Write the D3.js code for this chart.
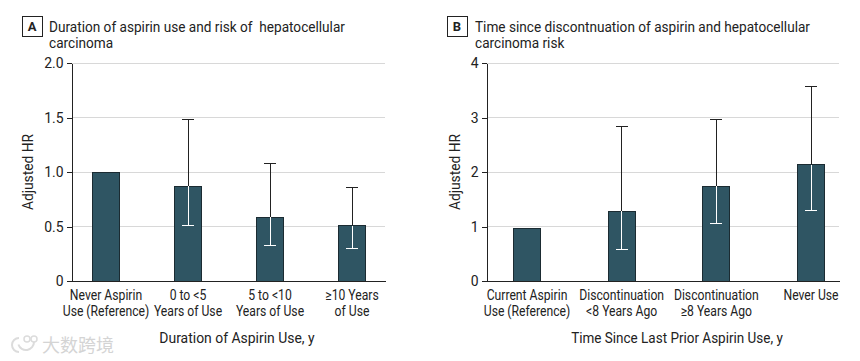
<!DOCTYPE html>
<html>
<head>
<meta charset="utf-8">
<script src="https://cdn.jsdelivr.net/npm/d3@7"></script>
<style>
    body { margin: 0; background: #fff; }
    svg { display: block; }
    text { font-family: "Roboto", sans-serif; fill: #222; }
    line, rect, .domain { shape-rendering: crispEdges; }
</style>
</head>
<body>
<svg id="chart" width="860" height="361"></svg>
<script>
// Panel A data
const durationLabels = ["Never Aspirin|Use (Reference)", "0 to <5|Years of Use", "5 to <10|Years of Use", "≥10 Years|of Use"];
const durationHR = [1.0, 0.87, 0.585, 0.505];
const durationLower = [null, 0.51, 0.33, 0.30];
const durationUpper = [null, 1.48, 1.08, 0.86];
const durationTicks = [0, 0.5, 1, 1.5, 2];

// Panel B data
const sinceLabels = ["Current Aspirin|Use (Reference)", "Discontinuation|<8 Years Ago", "Discontinuation|≥8 Years Ago", "Never Use"];
const sinceHR = [0.97, 1.28, 1.74, 2.13];
const sinceLower = [null, 0.57, 1.05, 1.29];
const sinceUpper = [null, 2.83, 2.97, 3.57];
const sinceTicks = [0, 1, 2, 3, 4];

const svg = d3.select("#chart");

const plotTop = 63, plotBottom = 281;
const barColor = "#2f5563";
const edgeColor = "#1b2b32";
const capHalf = 6;

// No condensed font is installed, so text gets squeezed horizontally
function squeezed(parent, x, y, squeeze, size, str) {
    return parent.append("text")
        .attr("transform", `translate(${x}, ${y}) scale(${squeeze}, 1)`)
        .attr("font-size", size)
        .style("white-space", "pre")
        .text(str);
}

function drawPanel(p) {
    const y = d3.scaleLinear().domain(p.domain).range([plotBottom, plotTop]);
    const x = d3.scalePoint().domain(p.labels).range(p.centers);
    const rows = p.labels.map((label, i) => ({
        label, hr: p.hr[i], lower: p.lower[i], upper: p.upper[i]
    }));

    // Letter box and title
    svg.append("rect")
        .attr("x", p.boxX).attr("y", 16)
        .attr("width", 20).attr("height", 20)
        .attr("fill", "#fff").attr("stroke", "#222");
    svg.append("text")
        .attr("x", p.boxX + 10).attr("y", 31)
        .attr("text-anchor", "middle")
        .attr("font-size", 13).attr("font-weight", "bold")
        .text(p.letter);
    p.title.forEach((line, i) => {
        squeezed(svg, p.titleX, 31.8 + i * 16.6, 0.974, 14, line);
    });

    // Grid lines
    svg.append("g").selectAll("line")
        .data(p.ticks.filter(d => d > 0))
        .enter()
        .append("line")
        .attr("x1", p.axisX).attr("x2", p.right)
        .attr("y1", d => y(d)).attr("y2", d => y(d))
        .attr("stroke", "#d8d8d8").attr("stroke-width", 1);

    // Upper whisker sits behind the bar top, so black part first
    const g = svg.append("g");
    g.selectAll("line.upper")
        .data(rows.filter(d => d.upper !== null))
        .enter()
        .append("line")
        .attr("class", "upper")
        .attr("x1", d => x(d.label)).attr("x2", d => x(d.label))
        .attr("y1", d => y(d.hr)).attr("y2", d => y(d.upper))
        .attr("stroke", "#222");
    g.selectAll("line.upper-cap")
        .data(rows.filter(d => d.upper !== null))
        .enter()
        .append("line")
        .attr("class", "upper-cap")
        .attr("x1", d => x(d.label) - capHalf).attr("x2", d => x(d.label) + capHalf)
        .attr("y1", d => y(d.upper)).attr("y2", d => y(d.upper))
        .attr("stroke", "#222");

    // Bars
    g.selectAll("rect")
        .data(rows)
        .enter()
        .append("rect")
        .attr("x", d => x(d.label) - 13.5)
        .attr("y", d => y(d.hr))
        .attr("width", 27)
        .attr("height", d => y(0) - y(d.hr))
        .attr("fill", barColor)
        .attr("stroke", edgeColor);

    // White part of the whisker inside the bar
    g.selectAll("line.lower")
        .data(rows.filter(d => d.lower !== null))
        .enter()
        .append("line")
        .attr("class", "lower")
        .attr("x1", d => x(d.label)).attr("x2", d => x(d.label))
        .attr("y1", d => y(d.hr)).attr("y2", d => y(d.lower))
        .attr("stroke", "#fff");
    g.selectAll("line.lower-cap")
        .data(rows.filter(d => d.lower !== null))
        .enter()
        .append("line")
        .attr("class", "lower-cap")
        .attr("x1", d => x(d.label) - capHalf).attr("x2", d => x(d.label) + capHalf)
        .attr("y1", d => y(d.lower)).attr("y2", d => y(d.lower))
        .attr("stroke", "#fff");

    // Y axis
    const yAxis = d3.axisLeft(y)
        .tickValues(p.ticks)
        .tickSize(5)
        .tickSizeOuter(0)
        .tickFormat(p.format);
    const yG = svg.append("g")
        .attr("transform", `translate(${p.axisX}, 0)`)
        .call(yAxis);
    yG.selectAll("path, line").attr("stroke", "#222");
    yG.selectAll("text")
        .attr("font-size", 15.5)
        .attr("x", -8 / 0.9)
        .attr("transform", "scale(0.9, 1)")
        .style("font-family", "Roboto");

    // Baseline
    svg.append("line")
        .attr("x1", p.axisX).attr("x2", p.right + 1)
        .attr("y1", y(0)).attr("y2", y(0))
        .attr("stroke", "#222");

    // Category labels
    rows.forEach(d => {
        d.label.split("|").forEach((line, i) => {
            squeezed(svg, x(d.label), 300 + i * 16, 0.84, 14.5, line)
                .attr("text-anchor", "middle");
        });
    });

    // Axis titles
    svg.append("text")
        .attr("transform", `translate(${p.yTitleX}, 172) rotate(-90) scale(0.95, 1)`)
        .attr("text-anchor", "middle")
        .attr("font-size", 14.5)
        .text("Adjusted HR");
    squeezed(svg, p.xTitleX, 343, p.xTitleSqueeze, 15, p.xTitle)
        .attr("text-anchor", "middle");
}

drawPanel({
    letter: "A", boxX: 22, titleX: 49,
    title: ["Duration of aspirin use and risk of  hepatocellular", "carcinoma"],
    labels: durationLabels, hr: durationHR, lower: durationLower, upper: durationUpper,
    ticks: durationTicks, domain: [0, 2],
    format: d => d === 0 ? "0" : d3.format(".1f")(d),
    axisX: 71.5, right: 385, centers: [106, 352],
    yTitleX: 33, xTitleX: 237, xTitleSqueeze: 0.93, xTitle: "Duration of Aspirin Use, y"
});

drawPanel({
    letter: "B", boxX: 447, titleX: 475,
    title: ["Time since discontnuation of aspirin and hepatocellular", "carcinoma risk"],
    labels: sinceLabels, hr: sinceHR, lower: sinceLower, upper: sinceUpper,
    ticks: sinceTicks, domain: [0, 4],
    format: d3.format("d"),
    axisX: 486.5, right: 839, centers: [527, 811],
    yTitleX: 460, xTitleX: 677, xTitleSqueeze: 0.9, xTitle: "Time Since Last Prior Aspirin Use, y"
});

// Watermark in the lower left corner
const mark = svg.append("g").attr("fill", "#dcdcdc");
mark.append("path")
    .attr("d", d3.arc()({ innerRadius: 6, outerRadius: 8, startAngle: Math.PI, endAngle: 2 * Math.PI }))
    .attr("transform", "translate(19, 345)");
mark.append("path")
    .attr("d", d3.arc()({ innerRadius: 7, outerRadius: 9, startAngle: Math.PI / 2, endAngle: 1.4 * Math.PI }))
    .attr("transform", "translate(26, 342)");
mark.selectAll("circle")
    .data([27, 34])
    .enter()
    .append("circle")
    .attr("cx", d => d).attr("cy", 339).attr("r", 3)
    .attr("fill", "none").attr("stroke", "#dcdcdc").attr("stroke-width", 1.5);
svg.append("text")
    .attr("x", 42).attr("y", 352)
    .attr("font-size", 18)
    .style("font-family", '"Noto Sans CJK SC"')
    .style("fill", "#d4d4d4")
    .text("大数跨境");
</script>
</body>
</html>
